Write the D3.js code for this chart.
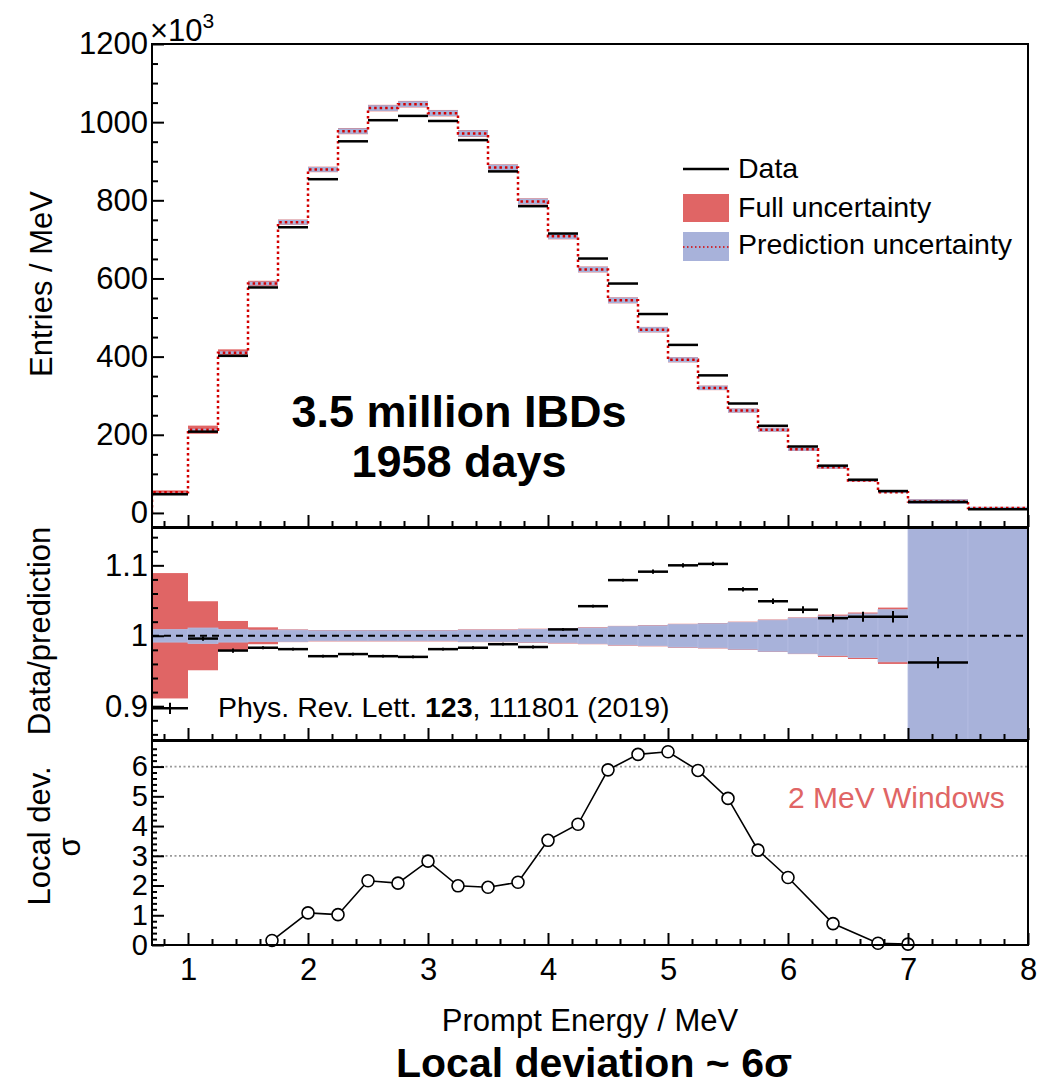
<!DOCTYPE html>
<html>
<head>
<meta charset="utf-8">
<script src="https://cdn.jsdelivr.net/npm/d3@7"></script>
<style>
  body { margin: 0; background: #fff; }
  svg { display: block; }
  text { font-family: "Liberation Sans", Arial, Helvetica, sans-serif; }
</style>
</head>
<body>
<div id="vis"></div>
<script>
// bin edges (MeV)
const binEdges = [0.7, 1.0, 1.25, 1.5, 1.75, 2.0, 2.25, 2.5, 2.75, 3.0, 3.25, 3.5, 3.75, 4.0,
    4.25, 4.5, 4.75, 5.0, 5.25, 5.5, 5.75, 6.0, 6.25, 6.5, 6.75, 7.0, 7.5, 8.0];

// entries / MeV (x10^3)
const dataEntries = [47.5, 208, 402, 577, 731, 854, 951, 1005, 1016, 1003, 954, 874, 785,
    715, 651, 587, 509, 430, 352, 280, 223, 170, 121, 85, 56, 28, 9.5];
const predEntries = [53, 213, 410, 587, 744, 879, 977, 1036, 1046, 1023, 971, 884, 797,
    708, 623, 544, 469, 392, 320, 262, 213, 163, 117, 83, 53, 29, 12.8];

// data / prediction
const ratio = [0.897, 0.996, 0.979, 0.983, 0.981, 0.971, 0.974, 0.971, 0.970, 0.981, 0.983,
    0.988, 0.984, 1.009, 1.042, 1.079, 1.091, 1.100, 1.102, 1.066, 1.049, 1.037, 1.025,
    1.027, 1.027, 0.962, null];
const ratioErr = [0.008, 0.003, 0.003, 0.002, 0.002, 0.002, 0.002, 0.002, 0.002, 0.002, 0.002,
    0.002, 0.002, 0.002, 0.002, 0.002, 0.003, 0.003, 0.003, 0.003, 0.004, 0.005, 0.006,
    0.007, 0.008, 0.008, null];

// relative half widths of the uncertainty bands
const predUnc = [0.009, 0.011, 0.009, 0.008, 0.008, 0.007, 0.007, 0.007, 0.007, 0.007, 0.008,
    0.008, 0.009, 0.010, 0.011, 0.013, 0.014, 0.016, 0.017, 0.019, 0.022, 0.025, 0.028,
    0.031, 0.037, 0.2, 0.2];
const fullUnc = [0.089, 0.049, 0.021, 0.012, 0.009, 0.008, 0.008, 0.008, 0.008, 0.008, 0.009,
    0.009, 0.010, 0.011, 0.012, 0.014, 0.015, 0.017, 0.018, 0.020, 0.023, 0.026, 0.030,
    0.033, 0.040, 0.21, 0.21];

// local deviation, 2 MeV windows
const localE = [1.7, 2.0, 2.25, 2.5, 2.75, 3.0, 3.25, 3.5, 3.75, 4.0, 4.25, 4.5, 4.75, 5.0,
    5.25, 5.5, 5.75, 6.0, 6.375, 6.75, 7.0];
const localSigma = [0.15, 1.08, 1.02, 2.16, 2.08, 2.82, 1.99, 1.94, 2.11, 3.52, 4.06, 5.89,
    6.41, 6.50, 5.87, 4.93, 3.19, 2.27, 0.72, 0.06, 0.03];

const xTicks = [1, 2, 3, 4, 5, 6, 7, 8];
const topTicks = [0, 200, 400, 600, 800, 1000, 1200];
const ratioTicks = [0.9, 1, 1.1];
const sigmaTicks = [0, 1, 2, 3, 4, 5, 6];

const RED = "#e06565";
const BLUE = "#a8b2da";

const bins = d3.range(binEdges.length - 1).map(i => ({
    x0: binEdges[i], x1: binEdges[i + 1],
    data: dataEntries[i], pred: predEntries[i],
    ratio: ratio[i], err: ratioErr[i],
    pu: predUnc[i], fu: fullUnc[i]
}));

const width = 1058, height = 1089;
const svg = d3.select("#vis").append("svg")
    .attr("width", width)
    .attr("height", height);

const x = d3.scaleLinear().domain([0.7, 8]).range([152, 1028]);
const yTop = d3.scaleLinear().domain([-36, 1200]).range([527, 44]);
const yRat = d3.scaleLinear().domain([0.852, 1.153]).range([740, 528]);
const ySig = d3.scaleLinear().domain([0, 6.86]).range([945, 741]);

function clip(id, y) {
    svg.append("clipPath").attr("id", id)
        .append("rect")
        .attr("x", x.range()[0]).attr("width", x.range()[1] - x.range()[0])
        .attr("y", y.range()[1]).attr("height", y.range()[0] - y.range()[1]);
}
clip("clipTop", yTop);
clip("clipRat", yRat);
clip("clipSig", ySig);

// axes helpers
function yAxis(y, major, minor, minorLen, fontSize) {
    const g = svg.append("g").attr("transform", `translate(${x.range()[0]},0)`);
    g.append("g").call(d3.axisLeft(y).tickValues(minor).tickSizeInner(-minorLen).tickSizeOuter(0).tickFormat(""))
        .call(a => a.select(".domain").remove());
    g.append("g").call(d3.axisLeft(y).tickValues(major).tickSizeInner(-12).tickSizeOuter(0).tickPadding(4)
            .tickFormat(d => String(d)))
        .call(a => a.select(".domain").remove());
    g.selectAll("line").attr("stroke", "#000").attr("stroke-width", 2);
    g.selectAll("text").attr("font-size", fontSize || 31).attr("fill", "#000")
        .attr("font-family", '"Liberation Sans", Arial, sans-serif');
}
function xAxis(y, labels) {
    const g = svg.append("g").attr("transform", `translate(0,${y.range()[0]})`);
    const minor = d3.range(0.8, 8.001, 0.2).map(v => +v.toFixed(1)).filter(v => !xTicks.includes(v));
    g.append("g").call(d3.axisBottom(x).tickValues(minor).tickSizeInner(-6).tickSizeOuter(0).tickFormat(""))
        .call(a => a.select(".domain").remove());
    g.append("g").call(d3.axisBottom(x).tickValues(xTicks).tickSizeInner(-12).tickSizeOuter(0).tickPadding(13)
            .tickFormat(labels ? d => String(d) : ""))
        .call(a => a.select(".domain").remove());
    g.selectAll("line").attr("stroke", "#000").attr("stroke-width", 2);
    g.selectAll("text").attr("font-size", 31).attr("fill", "#000")
        .attr("font-family", '"Liberation Sans", Arial, sans-serif');
}
function frame(y) {
    svg.append("rect")
        .attr("x", x.range()[0]).attr("y", y.range()[1])
        .attr("width", x.range()[1] - x.range()[0])
        .attr("height", y.range()[0] - y.range()[1])
        .attr("fill", "none").attr("stroke", "#000").attr("stroke-width", 2);
}

// ---------- top panel ----------
const gTop = svg.append("g").attr("clip-path", "url(#clipTop)");
gTop.selectAll(".full").data(bins).join("rect")
    .attr("x", d => x(d.x0)).attr("width", d => x(d.x1) - x(d.x0))
    .attr("y", d => yTop(d.pred * (1 + d.fu)))
    .attr("height", d => yTop(d.pred * (1 - d.fu)) - yTop(d.pred * (1 + d.fu)))
    .attr("fill", RED);
gTop.selectAll(".pred").data(bins).join("rect")
    .attr("x", d => x(d.x0)).attr("width", d => x(d.x1) - x(d.x0))
    .attr("y", d => yTop(d.pred * (1 + d.pu)))
    .attr("height", d => yTop(d.pred * (1 - d.pu)) - yTop(d.pred * (1 + d.pu)))
    .attr("fill", BLUE);

const stepPts = [[binEdges[0], 0]].concat(bins.map(d => [d.x0, d.pred]),
    [[binEdges[binEdges.length - 1], predEntries[predEntries.length - 1]]]);
gTop.append("path")
    .attr("d", d3.line().x(d => x(d[0])).y(d => yTop(d[1])).curve(d3.curveStepAfter)(stepPts))
    .attr("fill", "none").attr("stroke", "#d40000").attr("stroke-width", 2.5)
    .attr("stroke-dasharray", "2.5,3");

gTop.selectAll(".data").data(bins).join("line")
    .attr("x1", d => x(d.x0)).attr("x2", d => x(d.x1))
    .attr("y1", d => yTop(d.data)).attr("y2", d => yTop(d.data))
    .attr("stroke", "#000").attr("stroke-width", 2.5);

yAxis(yTop, topTicks, d3.range(50, 1200, 50).filter(v => v % 200), 6);
xAxis(yTop, false);
frame(yTop);

svg.append("text").attr("x", 150).attr("y", 41).attr("font-size", 31)
    .text("×10").append("tspan").attr("font-size", 21).attr("dy", -13).text("3");

// legend
const lg = svg.append("g");
lg.append("line").attr("x1", 683).attr("x2", 729).attr("y1", 169).attr("y2", 169)
    .attr("stroke", "#000").attr("stroke-width", 2.5);
lg.append("rect").attr("x", 683).attr("y", 194).attr("width", 46).attr("height", 28).attr("fill", RED);
lg.append("rect").attr("x", 683).attr("y", 232).attr("width", 46).attr("height", 29).attr("fill", BLUE);
lg.append("line").attr("x1", 683).attr("x2", 729).attr("y1", 247).attr("y2", 247)
    .attr("stroke", "#d40000").attr("stroke-width", 1.5).attr("stroke-dasharray", "1.5,2.5");
[["Data", 178], ["Full uncertainty", 217], ["Prediction uncertainty", 254]].forEach(([t, yy]) => {
    lg.append("text").attr("x", 738).attr("y", yy).attr("font-size", 28.5).text(t);
});

const big = svg.append("g").attr("font-weight", 700).attr("text-anchor", "middle");
big.append("text").attr("x", 459).attr("y", 427).attr("font-size", 45)
    .attr("font-family", '"Noto Sans CJK SC", "Noto Sans", sans-serif').text("3.5 million IBDs");
big.append("text").attr("x", 459).attr("y", 477).attr("font-size", 45)
    .attr("font-family", '"Noto Sans CJK SC", "Noto Sans", sans-serif').text("1958 days");

// ---------- ratio panel ----------
const gRat = svg.append("g").attr("clip-path", "url(#clipRat)");
gRat.selectAll(".full").data(bins).join("rect")
    .attr("x", d => x(d.x0)).attr("width", d => x(d.x1) - x(d.x0))
    .attr("y", d => yRat(1 + d.fu)).attr("height", d => yRat(1 - d.fu) - yRat(1 + d.fu))
    .attr("fill", RED);
gRat.selectAll(".pred").data(bins).join("rect")
    .attr("x", d => x(d.x0)).attr("width", d => x(d.x1) - x(d.x0))
    .attr("y", d => yRat(1 + d.pu)).attr("height", d => yRat(1 - d.pu) - yRat(1 + d.pu))
    .attr("fill", BLUE).attr("stroke", "#b3bce0").attr("stroke-width", 0.8);
gRat.append("line").attr("x1", x(0.7)).attr("x2", x(8)).attr("y1", yRat(1)).attr("y2", yRat(1))
    .attr("stroke", "#000").attr("stroke-width", 2).attr("stroke-dasharray", "7,5");

const pts = bins.filter(d => d.ratio != null);
gRat.selectAll(".rh").data(pts).join("line")
    .attr("x1", d => x(d.x0)).attr("x2", d => x(d.x1))
    .attr("y1", d => yRat(d.ratio)).attr("y2", d => yRat(d.ratio))
    .attr("stroke", "#000").attr("stroke-width", 2.5);
gRat.selectAll(".rv").data(pts).join("line")
    .attr("x1", d => x((d.x0 + d.x1) / 2)).attr("x2", d => x((d.x0 + d.x1) / 2))
    .attr("y1", d => yRat(d.ratio - d.err)).attr("y2", d => yRat(d.ratio + d.err))
    .attr("stroke", "#000").attr("stroke-width", 2);

yAxis(yRat, ratioTicks, d3.range(0.86, 1.15, 0.02).map(v => +v.toFixed(2)).filter(v => !ratioTicks.includes(v)), 6);
xAxis(yRat, false);
frame(yRat);

const cite = svg.append("text").attr("x", 218).attr("y", 717).attr("font-size", 28.5);
cite.append("tspan").text("Phys. Rev. Lett. ");
cite.append("tspan").attr("font-weight", 700).text("123");
cite.append("tspan").text(", 111801 (2019)");

// ---------- local deviation panel ----------
const gSig = svg.append("g").attr("clip-path", "url(#clipSig)");
[3, 6].forEach(v => {
    gSig.append("line").attr("x1", x(0.7)).attr("x2", x(8)).attr("y1", ySig(v)).attr("y2", ySig(v))
        .attr("stroke", "#999").attr("stroke-width", 1.8).attr("stroke-dasharray", "2,2.5");
});
const sigPts = localE.map((e, i) => [e, localSigma[i]]);
svg.append("path")
    .attr("d", d3.line().x(d => x(d[0])).y(d => ySig(d[1]))(sigPts))
    .attr("fill", "none").attr("stroke", "#000").attr("stroke-width", 1.6);
svg.selectAll(".pt").data(sigPts).join("circle")
    .attr("cx", d => x(d[0])).attr("cy", d => ySig(d[1])).attr("r", 6)
    .attr("fill", "#fff").attr("stroke", "#000").attr("stroke-width", 1.6);

yAxis(ySig, sigmaTicks, d3.range(0.2, 6.8, 0.2).map(v => +v.toFixed(1)).filter(v => !sigmaTicks.includes(v)), 5, 29);
xAxis(ySig, true);
frame(ySig);

svg.append("text").attr("x", 788).attr("y", 808).attr("font-size", 30).attr("fill", RED)
    .text("2 MeV Windows");

// ---------- axis titles ----------
svg.append("text").attr("transform", "translate(52,284) rotate(-90)")
    .attr("text-anchor", "middle").attr("font-size", 31).text("Entries / MeV");
svg.append("text").attr("transform", "translate(50,631) rotate(-90)")
    .attr("text-anchor", "middle").attr("font-size", 31).text("Data/prediction");
svg.append("text").attr("transform", "translate(50,836) rotate(-90)")
    .attr("text-anchor", "middle").attr("font-size", 31).text("Local dev.");
svg.append("text").attr("transform", "translate(80,847) rotate(-90)")
    .attr("text-anchor", "middle").attr("font-size", 31).text("σ");

svg.append("text").attr("x", 590).attr("y", 1031).attr("text-anchor", "middle")
    .attr("font-size", 31).text("Prompt Energy / MeV");
svg.append("text").attr("x", 594).attr("y", 1077).attr("text-anchor", "middle")
    .attr("font-size", 41).attr("font-weight", 700)
    .attr("font-family", '"Noto Sans CJK SC", "Noto Sans", sans-serif')
    .text("Local deviation ~ 6σ");
</script>
</body>
</html>
